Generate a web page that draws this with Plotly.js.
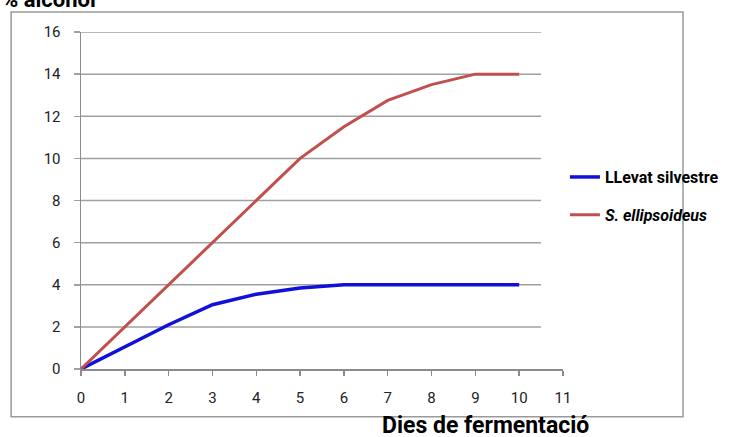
<!DOCTYPE html>
<html>
<head>
<meta charset="utf-8">
<script src="https://cdn.plot.ly/plotly-3.0.1.min.js"></script>
<style>html,body{margin:0;padding:0;background:#fff;}#chart{width:737px;height:437px;}</style>
</head>
<body>
<div id="chart"></div>
<script>
const days = [0, 1, 2, 3, 4, 5, 6, 7, 8, 9, 10];
const llevatSilvestre = [0, 1.05, 2.1, 3.05, 3.55, 3.85, 4, 4, 4, 4, 4];
const sEllipsoideus = [0, 2, 4, 6, 8, 10, 11.5, 12.75, 13.5, 14, 14];
const yTicks = [0, 2, 4, 6, 8, 10, 12, 14, 16];
const xTicks = [0, 1, 2, 3, 4, 5, 6, 7, 8, 9, 10, 11];
const seriesNames = ['LLevat silvestre', '<i>S. ellipsoideus</i>'];
const yTitle = '% alcohol';
const xTitle = 'Dies de fermentació';

const traces = [
  {x: days, y: llevatSilvestre, type: 'scatter', mode: 'lines', name: seriesNames[0],
   legendgroup: 'a', line: {color: '#1010D8', width: 3.5}},
  {x: days, y: sEllipsoideus, type: 'scatter', mode: 'lines', name: seriesNames[1],
   legendgroup: 'b', line: {color: '#C0504D', width: 3}}
];

const shapes = yTicks.filter(v => v > 0).map(v => ({
  type: 'line', xref: 'x', yref: 'y', x0: 0, x1: 10.5, y0: v, y1: v,
  line: {color: '#A0A0A0', width: 1.5}, layer: 'below'
}));
shapes.push({type: 'rect', xref: 'paper', yref: 'paper', x0: -0.145, x1: 1.249, y0: -0.142, y1: 1.059,
  line: {color: '#9A9A9A', width: 1.5}, fillcolor: 'rgba(0,0,0,0)', layer: 'below'});

const layout = {
  width: 737, height: 437,
  margin: {l: 81, r: 174, t: 32, b: 68},
  paper_bgcolor: '#fff', plot_bgcolor: '#fff',
  showlegend: true,
  legend: {x: 1.004, xanchor: 'left', y: 0.62, yanchor: 'top', tracegroupgap: 14,
    bgcolor: 'rgba(0,0,0,0)', font: {family: 'Roboto', size: 16, color: '#000', weight: 'bold'}},
  xaxis: {range: [0, 11], tickvals: xTicks, ticktext: xTicks.map(String), showgrid: false, zeroline: false,
    showline: true, linecolor: '#8C8C8C', linewidth: 1.5, ticks: 'outside', ticklen: 5, tickcolor: '#8C8C8C',
    tickwidth: 1.5, ticklabelstandoff: 9, tickfont: {family: 'Roboto', size: 15, color: '#222'}, fixedrange: true},
  yaxis: {range: [0, 16], tickvals: yTicks, ticktext: yTicks.map(String), showgrid: false, zeroline: false,
    showline: true, linecolor: '#8C8C8C', linewidth: 1.5, ticks: 'outside', ticklen: 6, tickcolor: '#A0A0A0',
    tickwidth: 1.5, ticklabelstandoff: 10, tickfont: {family: 'Roboto', size: 15, color: '#222'}, fixedrange: true},
  shapes: shapes,
  annotations: [
    {text: '<b>' + yTitle + '</b>', xref: 'paper', yref: 'paper', x: -0.168, y: 1.095,
     xanchor: 'left', yanchor: 'middle', showarrow: false, font: {family: 'Roboto', size: 22, color: '#000'}},
    {text: '<b>' + xTitle + '</b>', xref: 'paper', yref: 'paper', x: 0.84, y: -0.168,
     xanchor: 'center', yanchor: 'middle', showarrow: false, font: {family: 'Roboto', size: 23, color: '#000'}}
  ]
};

Plotly.newPlot('chart', traces, layout, {displayModeBar: false, staticPlot: true});
</script>
</body>
</html>
